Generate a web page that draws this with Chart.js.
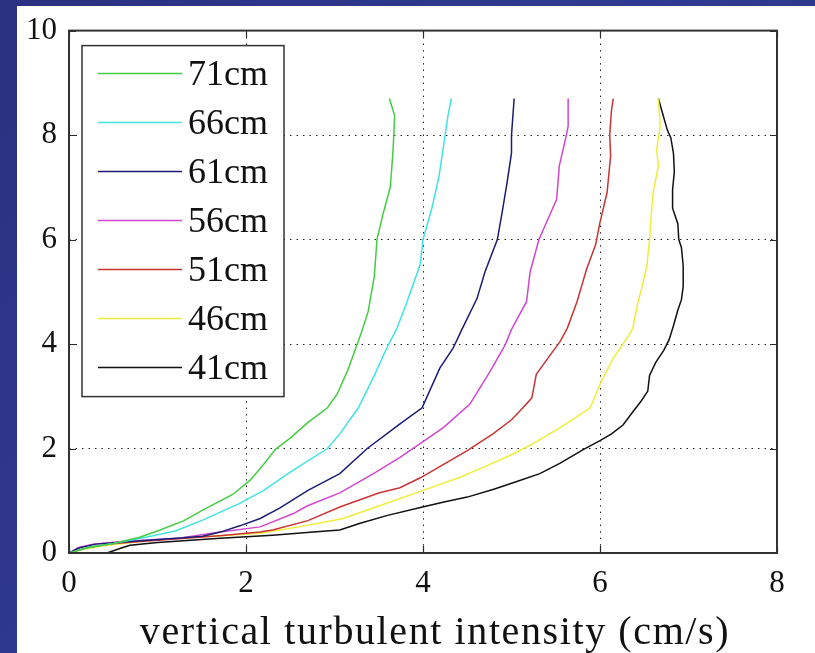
<!DOCTYPE html>
<html>
<head>
<meta charset="utf-8">
<script src="https://cdn.jsdelivr.net/npm/chart.js@4/dist/chart.umd.min.js"></script>
<style>
  html, body { margin: 0; padding: 0; background: #2b3388; }
  #wrap { width: 815px; height: 653px; }
</style>
</head>
<body>
<div id="wrap"><canvas id="c" width="815" height="653"></canvas></div>
<script>
// Vertical turbulent intensity profiles (cm/s) against height above bed (cm),
// one profile per measuring station.
const stationLabels = ['71cm', '66cm', '61cm', '56cm', '51cm', '46cm', '41cm'];
const stationColors = ['#44cc44', '#40e2e2', '#1c1c74', '#d047d0', '#c83434', '#eeee3a', '#111111'];
const xTitle = 'vertical turbulent intensity (cm/s)';

const intensityTicks = { min: 0, max: 8, step: 2 };
const heightTicks = { min: 0, max: 10, step: 2 };

// 71cm
const u71 = [0, 0.2, 0.5, 0.8, 1.03, 1.3, 1.51, 1.85, 2.05, 2.2, 2.33, 2.5, 2.7, 2.92, 3.03, 3.15, 3.3, 3.38, 3.45, 3.48, 3.55, 3.63, 3.66, 3.67, 3.68, 3.62];
const z71 = [0, 0.1, 0.18, 0.3, 0.44, 0.62, 0.82, 1.12, 1.4, 1.7, 1.98, 2.2, 2.5, 2.78, 3.04, 3.5, 4.2, 4.62, 5.3, 6.0, 6.5, 7.0, 7.66, 8.0, 8.37, 8.7];
// 66cm
const u66 = [0, 0.2, 0.5, 0.84, 1.2, 1.51, 1.93, 2.2, 2.5, 2.92, 3.06, 3.27, 3.45, 3.59, 3.7, 3.82, 3.97, 4.0, 4.1, 4.18, 4.25, 4.28, 4.32];
const z66 = [0, 0.1, 0.18, 0.29, 0.42, 0.63, 0.95, 1.2, 1.55, 2.0, 2.28, 2.78, 3.4, 3.92, 4.28, 4.81, 5.53, 6.0, 6.6, 7.2, 8.0, 8.35, 8.7];
// 61cm
const u61 = [0, 0.12, 0.3, 0.7, 1.22, 1.51, 1.71, 1.93, 2.16, 2.38, 2.7, 3.06, 3.37, 3.74, 3.99, 4.19, 4.34, 4.44, 4.61, 4.7, 4.84, 4.9, 4.95, 5.0, 5.0, 5.03];
const z61 = [0, 0.1, 0.17, 0.22, 0.28, 0.32, 0.4, 0.52, 0.66, 0.86, 1.2, 1.52, 2.0, 2.47, 2.78, 3.54, 3.92, 4.28, 4.87, 5.38, 6.0, 6.58, 7.09, 7.66, 8.0, 8.7];
// 56cm
const u56 = [0, 0.1, 0.27, 0.6, 1.22, 1.71, 2.16, 2.53, 2.69, 3.06, 3.44, 3.74, 3.93, 4.23, 4.53, 4.76, 4.93, 5.0, 5.17, 5.21, 5.31, 5.43, 5.51, 5.54, 5.62, 5.64, 5.64];
const z56 = [0, 0.1, 0.17, 0.22, 0.28, 0.4, 0.5, 0.75, 0.9, 1.15, 1.52, 1.83, 2.05, 2.4, 2.85, 3.48, 3.99, 4.28, 4.81, 5.38, 6.0, 6.46, 6.77, 7.41, 8.0, 8.17, 8.7];
// 51cm
const u51 = [0, 0.2, 0.45, 0.8, 1.2, 1.7, 2.16, 2.3, 2.7, 3.06, 3.5, 3.74, 3.97, 4.5, 4.79, 5.0, 5.13, 5.23, 5.28, 5.42, 5.55, 5.63, 5.74, 5.85, 5.95, 6.0, 6.08, 6.12, 6.11, 6.13, 6.15];
const z51 = [0, 0.1, 0.17, 0.22, 0.27, 0.33, 0.4, 0.44, 0.62, 0.88, 1.15, 1.25, 1.44, 1.96, 2.28, 2.55, 2.78, 2.97, 3.42, 3.75, 4.05, 4.3, 4.81, 5.44, 5.9, 6.33, 6.9, 7.6, 8.0, 8.48, 8.7];
// 46cm
const u46 = [0, 0.2, 0.4, 0.65, 1.0, 1.4, 1.8, 2.16, 2.6, 3.1, 3.5, 3.97, 4.42, 4.68, 5.0, 5.24, 5.55, 5.75, 5.89, 6.0, 6.15, 6.3, 6.37, 6.43, 6.47, 6.53, 6.56, 6.58, 6.6, 6.66, 6.64, 6.68, 6.66];
const z46 = [0, 0.08, 0.14, 0.19, 0.25, 0.3, 0.34, 0.38, 0.5, 0.66, 0.9, 1.18, 1.45, 1.64, 1.88, 2.09, 2.4, 2.62, 2.78, 3.23, 3.73, 4.1, 4.3, 4.81, 5.06, 5.5, 6.0, 6.5, 6.9, 7.41, 7.72, 8.17, 8.7];
// 41cm
const u41 = [0.43, 0.6, 0.69, 1.0, 1.71, 2.3, 2.76, 3.06, 3.29, 3.6, 3.97, 4.25, 4.5, 4.8, 5.06, 5.32, 5.55, 5.81, 6.0, 6.13, 6.26, 6.37, 6.47, 6.54, 6.56, 6.63, 6.72, 6.78, 6.83, 6.88, 6.92, 6.94, 6.94, 6.92, 6.89, 6.88, 6.82, 6.82, 6.84, 6.83, 6.8, 6.76, 6.71, 6.66];
const z41 = [0, 0.1, 0.15, 0.2, 0.28, 0.34, 0.4, 0.44, 0.57, 0.72, 0.87, 0.98, 1.07, 1.22, 1.37, 1.52, 1.72, 1.98, 2.15, 2.28, 2.45, 2.7, 2.92, 3.1, 3.4, 3.65, 3.88, 4.08, 4.35, 4.65, 4.85, 5.1, 5.5, 5.85, 6.0, 6.3, 6.6, 6.95, 7.3, 7.65, 7.95, 8.1, 8.4, 8.7];

const profiles = [[u71, z71], [u66, z66], [u61, z61], [u56, z56], [u51, z51], [u46, z46], [u41, z41]];

const SERIF = '"Liberation Serif", "DejaVu Serif", serif';

// slide backdrop: textured blue with a white panel behind the figure
const backdrop = {
  id: 'backdrop',
  beforeDraw(chart) {
    const { ctx, width, height } = chart;
    ctx.save();
    const g = ctx.createLinearGradient(0, 0, width, height);
    g.addColorStop(0, '#2a3180');
    g.addColorStop(0.5, '#2f3a92');
    g.addColorStop(1, '#28307c');
    ctx.fillStyle = g;
    ctx.fillRect(0, 0, width, height);
    ctx.fillStyle = '#ffffff';
    ctx.fillRect(17, 6, width - 17, height - 6);
    ctx.restore();
  }
};

// axes box with inward tick marks on all four sides
const axesBox = {
  id: 'axesBox',
  afterDatasetsDraw(chart) {
    const { ctx, chartArea: a, scales: { x, y } } = chart;
    const len = 7;
    ctx.save();
    ctx.strokeStyle = '#2a2a2a';
    ctx.lineWidth = 1.2;
    ctx.beginPath();
    x.ticks.forEach(t => {
      const px = Math.round(x.getPixelForValue(t.value)) + 0.5;
      ctx.moveTo(px, a.bottom); ctx.lineTo(px, a.bottom - len);
      ctx.moveTo(px, a.top); ctx.lineTo(px, a.top + len);
    });
    y.ticks.forEach(t => {
      const py = Math.round(y.getPixelForValue(t.value)) + 0.5;
      ctx.moveTo(a.left, py); ctx.lineTo(a.left + len, py);
      ctx.moveTo(a.right, py); ctx.lineTo(a.right - len, py);
    });
    ctx.stroke();
    ctx.lineWidth = 2;
    ctx.strokeStyle = '#333333';
    ctx.strokeRect(a.left, a.top, a.right - a.left, a.bottom - a.top);
    ctx.restore();
  }
};

// x-axis title, set in a wide serif under the tick labels
const axisTitle = {
  id: 'axisTitle',
  afterDraw(chart) {
    const { ctx, chartArea: a } = chart;
    ctx.save();
    ctx.font = '40px ' + SERIF;
    if ('letterSpacing' in ctx) ctx.letterSpacing = '1.6px';
    ctx.fillStyle = '#111111';
    ctx.textAlign = 'center';
    ctx.textBaseline = 'middle';
    ctx.fillText(xTitle, (a.left + a.right) / 2 + 12, a.bottom + 80);
    ctx.restore();
  }
};

// legend box in the upper-left corner of the axes
const boxLegend = {
  id: 'boxLegend',
  afterDraw(chart) {
    const { ctx, chartArea: a } = chart;
    const left = a.left + 13, top = a.top + 15, w = 202, h = 351;
    ctx.save();
    ctx.fillStyle = '#ffffff';
    ctx.fillRect(left, top, w, h);
    ctx.lineWidth = 1.5;
    ctx.strokeStyle = '#333333';
    ctx.strokeRect(left, top, w, h);
    ctx.font = '36px ' + SERIF;
    ctx.textBaseline = 'middle';
    ctx.textAlign = 'left';
    chart.data.datasets.forEach((ds, i) => {
      const cy = top + 28 + i * 49;
      ctx.strokeStyle = ds.borderColor;
      ctx.lineWidth = 1.5;
      ctx.beginPath();
      ctx.moveTo(left + 16, cy);
      ctx.lineTo(left + 100, cy);
      ctx.stroke();
      ctx.fillStyle = '#111111';
      ctx.fillText(ds.label, left + 106, cy + 2);
    });
    ctx.restore();
  }
};

new Chart(document.getElementById('c'), {
  type: 'scatter',
  data: {
    datasets: profiles.map(([u, z], i) => ({
      label: stationLabels[i],
      data: u.map((v, k) => ({ x: v, y: z[k] })),
      showLine: true,
      borderColor: stationColors[i],
      backgroundColor: stationColors[i],
      borderWidth: 1.5,
      pointRadius: 0,
      tension: 0
    }))
  },
  options: {
    responsive: false,
    animation: false,
    devicePixelRatio: 1,
    layout: { padding: { left: 0, top: 27, right: 38, bottom: 0 } },
    plugins: { legend: { display: false }, tooltip: { enabled: false } },
    scales: {
      x: {
        type: 'linear',
        min: intensityTicks.min,
        max: intensityTicks.max,
        ticks: { stepSize: intensityTicks.step, color: '#111', font: { family: SERIF, size: 31 }, padding: 12 },
        grid: { color: '#222', lineWidth: 1, drawTicks: false },
        border: { display: false, dash: [1.5, 5] },
        afterFit(s) { s.height = 100; }
      },
      y: {
        type: 'linear',
        min: heightTicks.min,
        max: heightTicks.max,
        ticks: { stepSize: heightTicks.step, color: '#111', font: { family: SERIF, size: 31 }, padding: 12 },
        grid: { color: '#222', lineWidth: 1, drawTicks: false },
        border: { display: false, dash: [1.5, 5] },
        afterFit(s) { s.width = 69; }
      }
    }
  },
  plugins: [backdrop, axesBox, axisTitle, boxLegend]
});
</script>
</body>
</html>
